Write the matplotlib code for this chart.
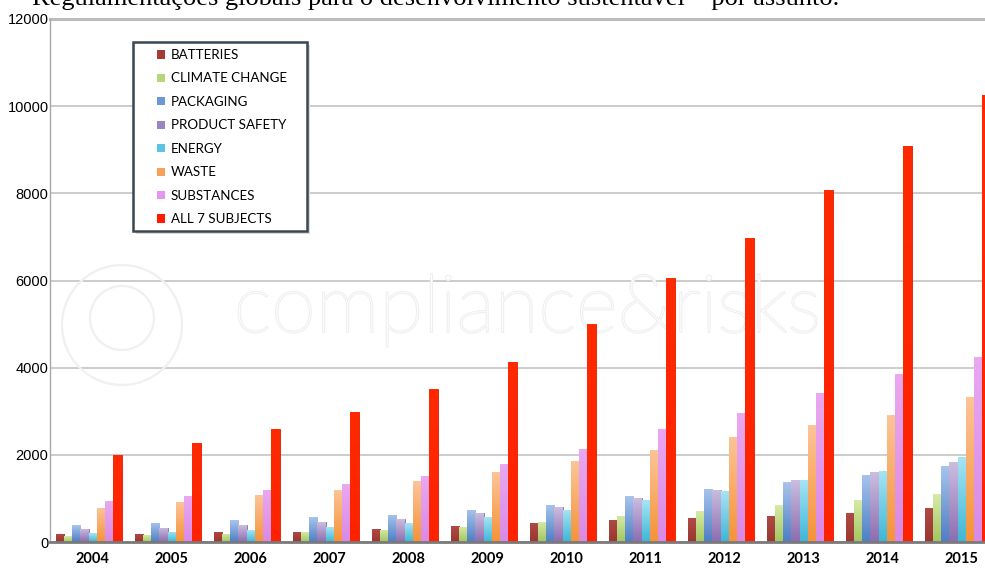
import matplotlib
matplotlib.use("Agg")
import matplotlib.pyplot as plt
import matplotlib.patheffects as pe
from matplotlib.colors import LinearSegmentedColormap
from matplotlib.patches import Rectangle, Circle
from matplotlib.transforms import IdentityTransform
from matplotlib.legend_handler import HandlerPatch
import numpy as np

# regulations per subject, 2004-2015
years = ['2004', '2005', '2006', '2007', '2008', '2009', '2010', '2011', '2012', '2013', '2014', '2015']
batteries = [180, 185, 230, 240, 295, 360, 440, 510, 560, 600, 665, 770]
climate_change = [130, 160, 190, 220, 285, 350, 460, 600, 705, 840, 960, 1090]
packaging = [380, 440, 500, 570, 620, 735, 860, 1045, 1225, 1370, 1540, 1750]
product_safety = [300, 330, 380, 450, 520, 660, 795, 1000, 1200, 1415, 1600, 1835]
energy = [200, 230, 270, 340, 430, 570, 735, 955, 1165, 1415, 1635, 1940]
waste = [790, 925, 1070, 1200, 1395, 1600, 1855, 2110, 2415, 2680, 2925, 3320]
substances = [930, 1050, 1190, 1330, 1520, 1780, 2130, 2600, 2950, 3425, 3850, 4250]
all_subjects = [2000, 2280, 2600, 2980, 3500, 4140, 5000, 6050, 6980, 8070, 9090, 10250]

labels = ['BATTERIES', 'CLIMATE CHANGE', 'PACKAGING', 'PRODUCT SAFETY',
          'ENERGY', 'WASTE', 'SUBSTANCES', 'ALL 7 SUBJECTS']
series = [batteries, climate_change, packaging, product_safety,
          energy, waste, substances, all_subjects]
# (top, bottom) gradient colours and legend colour
top_colors = ['#b04a44', '#d6eba6', '#a8c4ec', '#cbbde0', '#a6e4f4', '#fcc497', '#eaa8f0', '#ff2a00']
bottom_colors = ['#9a3530', '#a2c660', '#4d7fc4', '#8c6db0', '#3fb6d6', '#f59338', '#d98ae4', '#ff2200']
key_colors = ['#a33b37', '#b5d77a', '#6d97d6', '#9c84c0', '#5bc4e0', '#f7a05a', '#e796ee', '#ff1a00']
edge_colors = ['#8a2c28', '#9cbf62', '#5a86c4', '#8a70ad', '#48b4d2', '#ee9240', '#d88ae2', '#e81a00']

W, H = 985, 568
fig = plt.figure(figsize=(W / 100, H / 100), dpi=100)
fig.patch.set_facecolor('white')

ax_left, ax_right, ax_top, ax_bottom = 50, 1010, 19, 542
ax = fig.add_axes([ax_left / W, (H - ax_bottom) / H,
                   (ax_right - ax_left) / W, (ax_bottom - ax_top) / H])

x = np.arange(len(years))
bw = 0.104
grad = np.linspace(0, 1, 64).reshape(-1, 1)

for k, vals in enumerate(series):
    bars = ax.bar(x + (k - 3.5) * bw, vals, width=bw, color=key_colors[k],
                  edgecolor=edge_colors[k], linewidth=0.6, zorder=3)
    cmap = LinearSegmentedColormap.from_list('g%d' % k, [bottom_colors[k], top_colors[k]])
    for p in bars:
        bx, by = p.get_xy()
        im = ax.imshow(grad, extent=[bx, bx + p.get_width(), by, by + p.get_height()],
                       origin='lower', aspect='auto', cmap=cmap, zorder=3.1)
        im.set_clip_path(p)

ax.set_xlim(-0.49, (ax_right - ax_left) / 79.0 - 0.49)
ax.set_ylim(0, 12000)
ax.set_yticks(range(0, 12001, 2000))
ax.set_yticklabels([str(v) for v in range(0, 12001, 2000)],
                   fontsize=10.5, family='Liberation Sans')
ax.set_xticks(x + 0.05)
ax.set_xticklabels(years, fontsize=10.5, family='Lato', fontweight='bold')
ax.tick_params(axis='y', length=0, pad=1)
ax.tick_params(axis='x', length=0, pad=7)

ax.yaxis.grid(True, color='#c4c4c4', linewidth=1.2, zorder=0)
ax.set_axisbelow(True)
ax.axhline(12000, color='#bdbdbd', linewidth=2.2, zorder=1, clip_on=False)
for s in ['top', 'right']:
    ax.spines[s].set_visible(False)
ax.spines['left'].set_color('#a8a8a8')
ax.spines['left'].set_linewidth(1.0)
ax.spines['bottom'].set_color('#7a7a7a')
ax.spines['bottom'].set_linewidth(2.0)
ax.spines['bottom'].set_zorder(4)

# faint watermark behind the bars
ax.text(527 / W, 1 - 332 / H, 'compliance&risks', transform=fig.transFigure,
        fontsize=58, family='Lato', fontweight='light', color='white',
        ha='center', va='baseline', zorder=2,
        path_effects=[pe.withStroke(linewidth=1.6, foreground='#efefef')])
for cx, cy, r in [(122, 325, 60), (122, 318, 32)]:
    ax.add_patch(Circle((cx, H - cy), r, transform=IdentityTransform(),
                        fill=False, edgecolor='#f0f0f0', linewidth=1.6, zorder=2,
                        clip_on=False))

# legend box
box_l, box_t, box_r, box_b = 133, 42, 307, 231
fig.patches.append(Rectangle(((box_l + 3) / W, 1 - (box_b + 3) / H), (box_r - box_l) / W,
                             (box_b - box_t) / H, transform=fig.transFigure,
                             facecolor='#d8d8d8', edgecolor='none', zorder=5))
fig.patches.append(Rectangle((box_l / W, 1 - box_b / H), (box_r - box_l) / W,
                             (box_b - box_t) / H, transform=fig.transFigure,
                             facecolor='white', edgecolor='#3b4650', linewidth=1.8, zorder=6))


def square_handle(legend, orig_handle, xdescent, ydescent, width, height, fontsize):
    s = 6.0
    return Rectangle((-xdescent + width - s, -ydescent + (height - s) / 2), s, s)


handles = [Rectangle((0, 0), 1, 1, facecolor=c, edgecolor='none') for c in key_colors]
leg = fig.legend(handles, labels, loc='upper left',
                 bbox_to_anchor=((box_l + 7) / W, 1 - (box_t + 3) / H),
                 frameon=False, prop={'family': 'Lato', 'size': 9.6},
                 handlelength=1.6, handleheight=0.7, handletextpad=0.4,
                 labelspacing=0.86, borderpad=0.3, borderaxespad=0,
                 handler_map={Rectangle: HandlerPatch(patch_func=square_handle)})
leg.set_zorder(7)

# caption line, clipped at the top edge
fig.text(32 / W, 1 - 5 / H, 'Regulamentações globais para o desenvolvimento sustentável – por assunto.',
         fontsize=19, family='Liberation Serif', ha='left', va='baseline', color='black')
fig.text(4 / W, 1 - 5 / H, '7 –', fontsize=19, family='Liberation Serif',
         ha='right', va='baseline', color='black')

fig.savefig('out.png', dpi=100)
